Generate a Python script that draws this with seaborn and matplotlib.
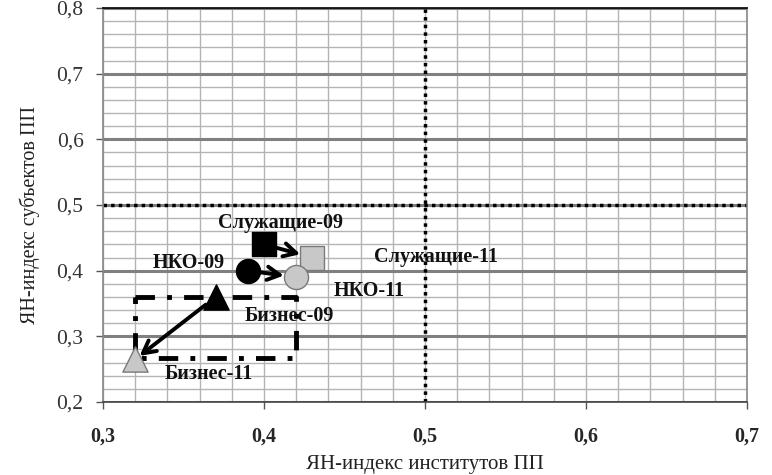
import matplotlib
matplotlib.use("Agg")
import matplotlib.pyplot as plt
import seaborn as sns
import pandas as pd
import numpy as np

sns.set_theme(style="white")
plt.rcParams['font.family'] = ['Liberation Serif', 'DejaVu Serif']

# Data
groups = ["Служащие", "НКО", "Бизнес"]
x_09 = [0.40, 0.39, 0.37]
y_09 = [0.44, 0.40, 0.36]
x_11 = [0.43, 0.42, 0.32]
y_11 = [0.42, 0.39, 0.265]
markers = ["s", "o", "^"]

labels_text = ["Служащие-09", "Служащие-11", "НКО-09", "НКО-11", "Бизнес-09", "Бизнес-11"]
labels_x = [0.41, 0.507, 0.353, 0.4655, 0.416, 0.366]
labels_y = [0.473, 0.421, 0.412, 0.369, 0.331, 0.243]

box_x = [0.32, 0.42]
box_y = [0.267, 0.36]

x_ticks = [0.3, 0.4, 0.5, 0.6, 0.7]
y_ticks = [0.2, 0.3, 0.4, 0.5, 0.6, 0.7, 0.8]
x_label = "ЯН-индекс институтов ПП"
y_label = "ЯН-индекс субъектов ПП"

fig = plt.figure(figsize=(7.72, 4.75), dpi=100)
ax = fig.add_axes([103/772, 1-402/475, (747-103)/772, (402-8)/475])

# grid
ax.set_xlim(0.3, 0.7)
ax.set_ylim(0.2, 0.8)
ax.set_xticks(np.arange(0.3, 0.7001, 0.02), minor=True)
ax.set_yticks(np.arange(0.2, 0.8001, 0.02), minor=True)
ax.grid(which="minor", axis="both", color="#b4b4b4", lw=1.0)
ax.grid(which="major", axis="x", color="#b4b4b4", lw=1.0)
ax.grid(which="major", axis="y", color="#808080", lw=2.2)
ax.set_axisbelow(True)

# threshold lines
ax.axvline(0.5, color="black", lw=2.5, ls=(0, (1, 1.2)), zorder=2)
ax.axhline(0.5, color="black", lw=2.5, ls=(0, (1, 1.2)), zorder=2)

# dash-dot box
ax.plot([box_x[0], box_x[1], box_x[1], box_x[0], box_x[0]],
        [box_y[1], box_y[1], box_y[0], box_y[0], box_y[1]],
        color="black", lw=3.5, ls=(0, (4, 2.5, 1, 2.5)), zorder=2)

df09 = pd.DataFrame({"x": x_09, "y": y_09, "g": groups})
df11 = pd.DataFrame({"x": x_11, "y": y_11, "g": groups})
mk = dict(zip(groups, markers))
sizes = {"Служащие": 300, "НКО": 300, "Бизнес": 330}
for g in groups:
    d09 = df09[df09.g == g]
    d11 = df11[df11.g == g]
    sns.scatterplot(data=d11, x="x", y="y", marker=mk[g], s=sizes[g],
                    color="#c8c8c8", edgecolor="#7a7a7a", linewidth=1.0, ax=ax, zorder=4, legend=False)
    sns.scatterplot(data=d09, x="x", y="y", marker=mk[g], s=sizes[g],
                    color="black", edgecolor="black", linewidth=1.0, ax=ax, zorder=4, legend=False)

for i in range(3):
    ax.annotate("", xy=(x_11[i], y_11[i]), xytext=(x_09[i], y_09[i]),
                arrowprops=dict(arrowstyle="->,head_length=0.75,head_width=0.4", color="black",
                                lw=2.8, shrinkA=9, shrinkB=9 if i < 2 else 4),
                zorder=5)

for t, lx, ly in zip(labels_text, labels_x, labels_y):
    ax.text(lx, ly, t, ha="center", va="center", fontsize=14.5, fontweight="bold",
            color="#111111", zorder=6)

ax.set_xticks(x_ticks)
ax.set_xticklabels([f"{v:.1f}".replace(".", ",") for v in x_ticks],
                   fontsize=14.5, fontweight="bold")
ax.set_yticks(y_ticks)
ax.set_yticklabels([f"{v:.1f}".replace(".", ",") for v in y_ticks],
                   fontsize=15.5, color="#333333")
ax.tick_params(axis="both", which="major", direction="out", length=5, width=1,
               color="#555555", bottom=True, left=True)
ax.tick_params(axis="x", pad=13)
ax.tick_params(axis="y", pad=9)

ax.set_xlabel(x_label, fontsize=15, color="#222222")
ax.set_ylabel(y_label, fontsize=14.5, color="#222222")
ax.xaxis.set_label_coords(0.5, -0.135)
ax.yaxis.set_label_coords(-0.098, 0.475)

for s in ["left", "right"]:
    ax.spines[s].set_color("#888888")
ax.spines["top"].set_color("black")
ax.spines["bottom"].set_color("#444444")
for s in ax.spines.values():
    s.set_linewidth(1.2)

fig.savefig("out.png", dpi=100)
